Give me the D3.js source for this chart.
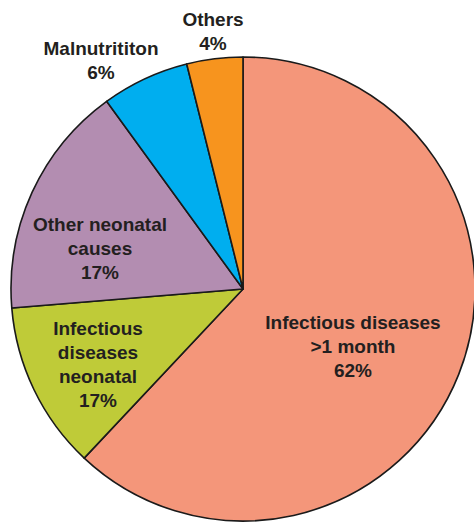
<!DOCTYPE html>
<html lang="en">
<head>
  <meta charset="UTF-8" />
  <title>Causes of death</title>
  <style>
    html, body { margin: 0; padding: 0; background: #fff; }
    svg { display: block; overflow: hidden; }
  </style>
</head>
<body>
  <svg id="pie" width="474" height="523"></svg>

  <script src="https://d3js.org/d3.v7.min.js"></script>
  <script>
    // categories, going clockwise from 12 o'clock
    const categories = [
      "Infectious diseases >1 month",
      "Infectious diseases neonatal",
      "Other neonatal causes",
      "Malnutrititon",
      "Others"
    ];
    const sliceValues = [62, 11.7, 16.3, 6.1, 3.9];
    // label text as printed on the chart
    const labelLines = [
      ["Infectious diseases", ">1 month", "62%"],
      ["Infectious", "diseases", "neonatal", "17%"],
      ["Other neonatal", "causes", "17%"],
      ["Malnutrititon", "6%"],
      ["Others", "4%"]
    ];
    const colors = ["#f4967a", "#bfcb38", "#b38db1", "#00aeef", "#f7941e"];

    // where each label block is centred (first line y)
    const labelPos = [
      [353, 322],
      [98, 328],
      [100, 224],
      [101, 48],
      [213, 19]
    ];

    const cx = 243, cy = 289, R = 232;
    const lineH = 24;

    const svg = d3.select("#pie");
    const g = svg.append("g").attr("transform", `translate(${cx},${cy})`);

    const data = categories.map((c, i) => ({ name: c, value: sliceValues[i], i: i }));

    const pie = d3.pie().sort(null).value(d => d.value);
    const arc = d3.arc().innerRadius(0).outerRadius(R);

    g.selectAll("path")
      .data(pie(data))
      .enter()
      .append("path")
      .attr("d", arc)
      .attr("fill", d => colors[d.data.i])
      .attr("stroke", "#1a1a1a")
      .attr("stroke-width", 1.6)
      .attr("stroke-linejoin", "round");

    const labels = svg.selectAll(".lbl")
      .data(data)
      .enter()
      .append("text")
      .attr("class", "lbl")
      .attr("text-anchor", "middle")
      .attr("font-family", "'Liberation Sans', Arial, sans-serif")
      .attr("font-weight", "bold")
      .attr("font-size", "19px")
      .attr("fill", "#231f20");

    labels.each(function (d) {
      const t = d3.select(this);
      const [x, y] = labelPos[d.i];
      labelLines[d.i].forEach((line, k) => {
        t.append("tspan")
          .attr("x", x)
          .attr("y", y + k * lineH)
          .attr("dy", "0.35em")
          .text(line);
      });
    });
  </script>
</body>
</html>
